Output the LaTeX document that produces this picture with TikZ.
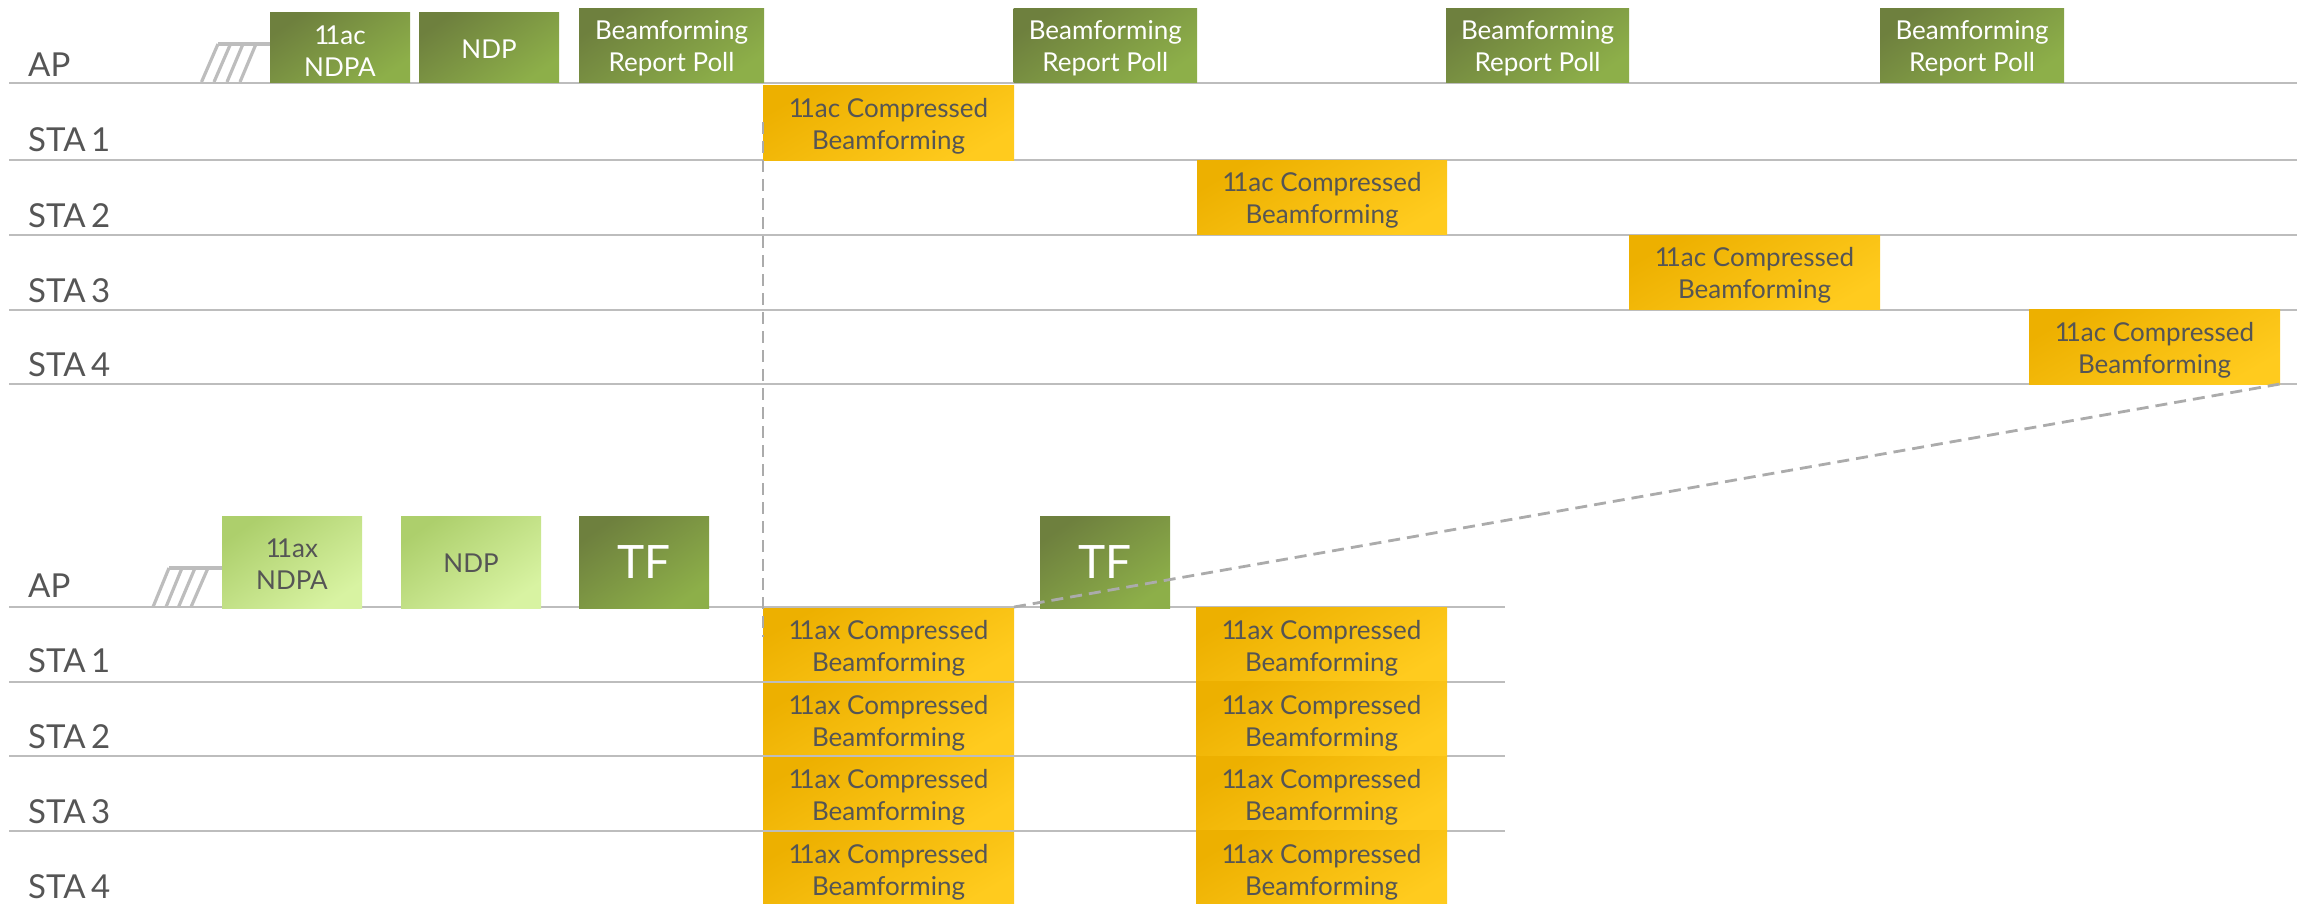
\documentclass[tikz,border=0pt]{standalone}
\usepackage{fontspec}
\setmainfont{Lato}
\definecolor{lineg}{HTML}{BDBDBD}
\definecolor{dashg}{HTML}{ABABAB}
\definecolor{ink}{HTML}{555555}
\definecolor{gra}{HTML}{6E803E}
\definecolor{grb}{HTML}{8DAF49}
\definecolor{lga}{HTML}{ADCF6C}
\definecolor{lgb}{HTML}{D8F3A2}
\definecolor{goa}{HTML}{EDB000}
\definecolor{gob}{HTML}{FFCB1E}
\tikzset{
  boxbase/.style={inner sep=0pt,outer sep=0pt,align=center,font=\fontsize{26}{32}\selectfont},
  darkgreen/.style={boxbase,left color=gra,right color=grb,shading angle=35,text=white},
  lightgreen/.style={boxbase,left color=lga,right color=lgb,shading angle=35,text=ink},
  goldbox/.style={boxbase,left color=goa,right color=gob,shading angle=30,text=ink},
  bigtext/.style={font=\fontsize{46}{46}\selectfont},
  rowlabel/.style={anchor=base west,inner sep=0pt,text=ink,font=\fontsize{33}{33}\selectfont},
  rowline/.style={draw=lineg,line width=2pt},
  hatch/.style={draw=lineg,line width=3.2pt},
  guide/.style={draw=dashg,line width=2.8pt,dash pattern=on 12pt off 7pt}
}
\newcommand{\pbox}[7]{\node[#2,minimum width={(#5-#3)*1pt},minimum height={(#6-#4)*1pt}] (#1) at ({(#3+#5)/2},{(#4+#6)/2}) {#7};}
\newcommand{\dropline}{\rule{0pt}{26pt}}
\newcommand{\elv}{1\kern-4pt 1}
\newcommand{\acgold}{\dropline\elv ac Compressed\\Beamforming}
\newcommand{\axgold}{\rule{0pt}{28pt}\elv ax Compressed\\Beamforming}
\newcommand{\brp}{\dropline Beamforming\\Report Poll}
\begin{document}
\begin{tikzpicture}[x=1pt,y=-1pt]
\useasboundingbox (0,0) rectangle (2297,903);
% row lines
\foreach \n/\y/\e in {a/82.5/2297,b/160/2297,c/234.5/2297,d/309.5/2297,e/384/2297,f/607/1505,g/681.5/1505,h/756/1505,i/830.5/1505}{
  \coordinate (l\n) at (9,\y);
  \coordinate (r\n) at (\e,\y);
}
% first stack of 11ax replies lies under the row lines
\pbox{ax1}{goldbox}{763}{607}{1014}{681.5}{\axgold}
\pbox{ax2}{goldbox}{763}{681.5}{1014}{756}{\axgold}
\pbox{ax3}{goldbox}{763}{756}{1014}{830.5}{\axgold}
\pbox{ax4}{goldbox}{763}{830.5}{1014}{905}{\axgold}
\foreach \n in {a,b,c,d,e,f,g,h,i}{\draw[rowline] (l\n) -- (r\n);}
% hatches
\coordinate (ha) at (218,44);
\draw[hatch] (ha) -- (270,44);
\foreach \b/\t in {201.5/218,214/230.5,227/243,240/256}{\draw[hatch] (\b,82) -- (\t,44);}
\coordinate (hb) at (169,568);
\draw[hatch] (hb) -- (222,568);
\foreach \b/\t in {153/169,166/182,178.5/195,191/208}{\draw[hatch] (\b,607) -- (\t,568);}
% upper frames
\pbox{ndpa}{darkgreen}{270}{12}{410}{82}{\dropline\elv ac\\NDPA}
\pbox{ndp}{darkgreen}{419}{12}{559}{82}{\rule{0pt}{23pt}NDP}
\pbox{p1}{darkgreen}{579}{8}{764}{82}{\brp}
\pbox{p2}{darkgreen}{1013.5}{8}{1197}{82}{\brp}
\pbox{p3}{darkgreen}{1446}{8}{1629}{82}{\brp}
\pbox{p4}{darkgreen}{1880}{8}{2064}{82}{\brp}
\pbox{s1}{goldbox}{763}{85}{1014}{160}{\acgold}
\pbox{s2}{goldbox}{1197}{160}{1447}{234.5}{\acgold}
\pbox{s3}{goldbox}{1629}{235}{1880}{309.5}{\acgold}
\pbox{s4}{goldbox}{2029}{309.5}{2280}{384}{\acgold}
% lower frames
\pbox{xndpa}{lightgreen}{222}{516}{362}{608}{\rule{0pt}{22pt}\elv ax\\NDPA}
\pbox{xndp}{lightgreen}{401}{516}{541}{608}{\rule{0pt}{21pt}NDP}
\pbox{tf1}{darkgreen,bigtext}{579}{516}{709}{608}{TF}
\pbox{tf2}{darkgreen,bigtext}{1040}{516}{1170}{608}{TF}
\pbox{bx1}{goldbox}{1196}{607}{1447}{681.5}{\axgold}
\pbox{bx2}{goldbox}{1196}{681.5}{1447}{756}{\axgold}
\pbox{bx3}{goldbox}{1196}{756}{1447}{830.5}{\axgold}
\pbox{bx4}{goldbox}{1196}{830.5}{1447}{905}{\axgold}
% labels
\foreach \n/\t/\y in {la/AP/76,lb/STA\kern-3pt\ 1/151,lc/STA\kern-3pt\ 2/227,ld/STA\kern-3pt\ 3/302,le/STA\kern-3pt\ 4/376,lf/AP/597,lg/STA\kern-3pt\ 1/672.5,lh/STA\kern-3pt\ 2/748,li/STA\kern-3pt\ 3/823,lj/STA\kern-3pt\ 4/898}{
  \node[rowlabel] (\n) at (28,\y) {\t};
}
% guides
\draw[guide] (s1.north west) ++(0,37) -- (ax1.north west |- 0,637);
\draw[guide] (ax1.north east) -- (s4.south east);
\end{tikzpicture}
\end{document}
